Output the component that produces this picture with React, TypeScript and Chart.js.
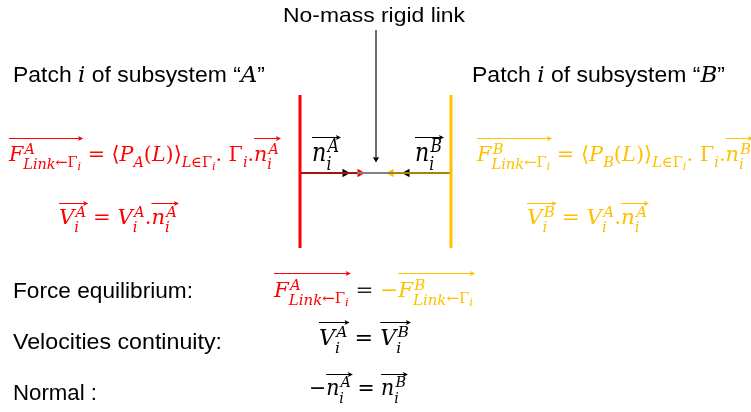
import React, { useEffect, useRef } from 'react';
import { Chart, registerables } from 'chart.js';
Chart.register(...registerables);

const W = 751;
const H = 412;
const RED = '#FF0000';
const GOLD = '#FFC000';
const INK = '#000000';

// ---- diagram geometry (data units = pixels) ----
const wallXs = [300, 451];
const wallColors = [RED, GOLD];
const wallSpan = [95, 248];
const linkY = 173;
const linkStops = [300, 357, 391, 451];
const linkColors = ['#A51212', '#808080', '#A88200'];
const headXs = [345, 360, 391, 407];
const headRotations = [90, 90, 270, 270];
const headColors = ['#000000', RED, GOLD, '#000000'];
const pointerX = 376;
const pointerSpan = [30, 158];

// ---- text runs: [text, code, colour?]  codes: m italic math, r roman math, u sup, d sub, D sub-sub, s stacked, v vector bracket
type Run = [string, string, string?];

const titleLink: Run[] = [['No-mass rigid link', '']];
const patchA: Run[] = [['Patch ', ''], ['i', 'm'], [' of subsystem \u201C', ''], ['A', 'm'], ['\u201D', '']];
const patchB: Run[] = [['Patch ', ''], ['i', 'm'], [' of subsystem \u201C', ''], ['B', 'm'], ['\u201D', '']];

const forceA: Run[] = [
  ['{', 'v'], ['F', 'm'], ['A', 'mu'], ['Link', 'mds'], ['\u2190', 'rd'], ['\u0393', 'rd'], ['i', 'mD'], ['}', 'v'],
  [' = ', 'r'], ['\u27E8', 'r'], ['P', 'm'], ['A', 'md'], ['(', 'r'], ['L', 'm'], [')', 'r'], ['\u27E9', 'r'],
  ['L', 'md'], ['\u2208', 'rd'], ['\u0393', 'rd'], ['i', 'mD'], ['. ', 'r'], ['\u0393', 'r'], ['i', 'md'], ['.', 'r'],
  ['{', 'v'], ['n', 'm'], ['A', 'mu'], ['i', 'mds'], ['}', 'v'],
];
const forceB: Run[] = [
  ['{', 'v'], ['F', 'm'], ['B', 'mu'], ['Link', 'mds'], ['\u2190', 'rd'], ['\u0393', 'rd'], ['i', 'mD'], ['}', 'v'],
  [' = ', 'r'], ['\u27E8', 'r'], ['P', 'm'], ['B', 'md'], ['(', 'r'], ['L', 'm'], [')', 'r'], ['\u27E9', 'r'],
  ['L', 'md'], ['\u2208', 'rd'], ['\u0393', 'rd'], ['i', 'mD'], ['. ', 'r'], ['\u0393', 'r'], ['i', 'md'], ['.', 'r'],
  ['{', 'v'], ['n', 'm'], ['B', 'mu'], ['i', 'mds'], ['}', 'v'],
];
const velA: Run[] = [
  ['{', 'v'], ['V', 'm'], ['A', 'mu'], ['i', 'mds'], ['}', 'v'], [' = ', 'r'],
  ['V', 'm'], ['A', 'mu'], ['i', 'mds'], ['.', 'r'], ['{', 'v'], ['n', 'm'], ['A', 'mu'], ['i', 'mds'], ['}', 'v'],
];
const velB: Run[] = [
  ['{', 'v'], ['V', 'm'], ['B', 'mu'], ['i', 'mds'], ['}', 'v'], [' = ', 'r'],
  ['V', 'm'], ['A', 'mu'], ['i', 'mds'], ['.', 'r'], ['{', 'v'], ['n', 'm'], ['A', 'mu'], ['i', 'mds'], ['}', 'v'],
];
const normalA: Run[] = [['{', 'v'], ['n', 'm'], ['A', 'mu'], ['i', 'mds'], ['}', 'v']];
const normalB: Run[] = [['{', 'v'], ['n', 'm'], ['B', 'mu'], ['i', 'mds'], ['}', 'v']];

const labelForce: Run[] = [['Force equilibrium:', '']];
const labelVel: Run[] = [['Velocities continuity:', '']];
const labelNormal: Run[] = [['Normal :', '']];

const eqForce: Run[] = [
  ['{', 'v', RED], ['F', 'm', RED], ['A', 'mu', RED], ['Link', 'mds', RED], ['\u2190', 'rd', RED], ['\u0393', 'rd', RED], ['i', 'mD', RED], ['}', 'v'],
  [' = ', 'r', '#222222'], ['\u2212', 'r', GOLD],
  ['{', 'v', GOLD], ['F', 'm', GOLD], ['B', 'mu', GOLD], ['Link', 'mds', GOLD], ['\u2190', 'rd', GOLD], ['\u0393', 'rd', GOLD], ['i', 'mD', GOLD], ['}', 'v'],
];
const eqVel: Run[] = [
  ['{', 'v'], ['V', 'm'], ['A', 'mu'], ['i', 'mds'], ['}', 'v'], [' = ', 'r'],
  ['{', 'v'], ['V', 'm'], ['B', 'mu'], ['i', 'mds'], ['}', 'v'],
];
const eqNormal: Run[] = [
  ['\u2212', 'r'], ['{', 'v'], ['n', 'm'], ['A', 'mu'], ['i', 'mds'], ['}', 'v'], [' = ', 'r'],
  ['{', 'v'], ['n', 'm'], ['B', 'mu'], ['i', 'mds'], ['}', 'v'],
];

type Item = { runs: Run[]; x: number; y: number; size: number; color: string; family: 'sans' | 'math'; w?: number; align?: 'left' | 'center'; ar?: number };

const items: Item[] = [
  { runs: titleLink, x: 374, y: 22, size: 21, color: INK, family: 'sans', w: 182, align: 'center' },
  { runs: patchA, x: 13, y: 82, size: 22, color: INK, family: 'sans', w: 252 },
  { runs: patchB, x: 472, y: 82, size: 22, color: INK, family: 'sans', w: 253 },
  { runs: forceA, x: 9, y: 161, size: 21, color: RED, family: 'math', w: 270, ar: 23 },
  { runs: velA, x: 59, y: 224, size: 21, color: RED, family: 'math', w: 118, ar: 21 },
  { runs: normalA, x: 312, y: 161, size: 26, color: INK, family: 'math', w: 27, ar: 24 },
  { runs: normalB, x: 415, y: 161, size: 26, color: INK, family: 'math', w: 27, ar: 24 },
  { runs: forceB, x: 477, y: 161, size: 21, color: GOLD, family: 'math', w: 274, ar: 23 },
  { runs: velB, x: 527, y: 224, size: 21, color: GOLD, family: 'math', w: 120, ar: 21 },
  { runs: labelForce, x: 13, y: 298, size: 22, color: INK, family: 'sans', w: 180 },
  { runs: labelVel, x: 13, y: 349, size: 22, color: INK, family: 'sans', w: 209 },
  { runs: labelNormal, x: 13, y: 400, size: 22, color: INK, family: 'sans', w: 84 },
  { runs: eqForce, x: 274, y: 297, size: 21, color: INK, family: 'math', w: 199, ar: 24 },
  { runs: eqVel, x: 319, y: 345, size: 22, color: INK, family: 'math', w: 90, ar: 23 },
  { runs: eqNormal, x: 309, y: 395, size: 22, color: INK, family: 'math', w: 97, ar: 21 },
];

function fontFor(code: string, sz: number, family: string) {
  if (code.includes('m')) return `italic ${sz}px "DejaVu Serif", serif`;
  if (code.includes('r') || family === 'math') return `${sz}px "DejaVu Serif", serif`;
  return `${sz}px "Liberation Sans", Arial, sans-serif`;
}

function layout(ctx: CanvasRenderingContext2D, item: Item) {
  const S = item.size;
  let x = 0;
  let anchor = 0;
  let prevEnd = 0;
  let lastBaseItalic = false;
  const placed: { t: string; font: string; x: number; dy: number; color: string }[] = [];
  const groups: { x0: number; x1: number; color: string }[] = [];
  let open: { x0: number; x1: number; color: string } | null = null;
  for (const [t, code, col] of item.runs) {
    if (code.includes('v')) {
      if (t === '{') open = { x0: x, x1: x, color: col || item.color };
      else if (open) { open.x1 = x; groups.push(open); open = null; }
      continue;
    }
    let sz = S;
    let dy = 0;
    if (code.includes('u')) { sz = S * 0.7; dy = -0.35 * S; }
    else if (code.includes('D')) { sz = S * 0.54; dy = 0.42 * S; }
    else if (code.includes('d')) { sz = S * 0.7; dy = code.includes('s') ? 0.36 * S : 0.28 * S; }
    const font = fontFor(code, sz, item.family);
    ctx.font = font;
    const w = ctx.measureText(t).width;
    let sx = x;
    if (code.includes('s')) sx = anchor;
    else if (code.includes('u')) { anchor = x; sx = x + (lastBaseItalic ? 0.06 * S : 0); }
    else anchor = x;
    placed.push({ t, font, x: sx, dy, color: col || item.color });
    const end = sx + w;
    x = code.includes('s') ? Math.max(prevEnd, end) : end;
    prevEnd = x;
    if (!code.includes('u') && !code.includes('d') && !code.includes('D') && !code.includes('s')) lastBaseItalic = code.includes('m');
  }
  return { placed, groups, width: x };
}

const textPlugin = {
  id: 'diagramText',
  afterDatasetsDraw(chart: any) {
    const ctx: CanvasRenderingContext2D = chart.ctx;
    const xs = chart.scales.x;
    const ys = chart.scales.y;
    ctx.save();
    ctx.textBaseline = 'alphabetic';
    ctx.textAlign = 'left';
    for (const item of items) {
      const lay = layout(ctx, item);
      const k = item.w ? item.w / lay.width : 1;
      let px = xs.getPixelForValue(item.x);
      const py = ys.getPixelForValue(item.y);
      if (item.align === 'center') px -= (lay.width * k) / 2;
      ctx.save();
      ctx.translate(px, py);
      ctx.scale(k, 1);
      for (const p of lay.placed) {
        ctx.font = p.font;
        ctx.fillStyle = p.color;
        ctx.fillText(p.t, p.x, p.dy);
      }
      ctx.restore();
      for (const g of lay.groups) {
        const x0 = px + g.x0 * k;
        const x1 = px + g.x1 * k + 2;
        const y = Math.round(py - (item.ar || 22)) + 0.5;
        ctx.strokeStyle = g.color;
        ctx.fillStyle = g.color;
        ctx.lineWidth = 1;
        ctx.beginPath();
        ctx.moveTo(x0, y);
        ctx.lineTo(x1 - 1, y);
        ctx.stroke();
        ctx.beginPath();
        ctx.moveTo(x1, y);
        ctx.lineTo(x1 - 5, y - 2.5);
        ctx.lineTo(x1 - 4, y);
        ctx.lineTo(x1 - 5, y + 2.5);
        ctx.closePath();
        ctx.fill();
      }
    }
    ctx.restore();
  },
};

export default function App() {
  const ref = useRef<HTMLCanvasElement | null>(null);
  useEffect(() => {
    if (!ref.current) return;
    const line = (pts: { x: number; y: number }[], color: string, width: number) => ({
      type: 'scatter' as const,
      data: pts,
      showLine: true,
      borderColor: color,
      borderWidth: width,
      pointRadius: 0,
      fill: false,
    });
    const datasets: any[] = [];
    wallXs.forEach((wx, i) => {
      datasets.push(line([{ x: wx, y: wallSpan[0] }, { x: wx, y: wallSpan[1] }], wallColors[i], 3));
    });
    linkColors.forEach((c, i) => {
      datasets.push(line([{ x: linkStops[i], y: linkY }, { x: linkStops[i + 1], y: linkY }], c, 2));
    });
    datasets.push(line([{ x: pointerX, y: pointerSpan[0] }, { x: pointerX, y: pointerSpan[1] }], '#595959', 1));
    datasets.push({
      type: 'scatter',
      data: [{ x: pointerX, y: pointerSpan[1] + 1 }],
      pointStyle: 'triangle',
      rotation: 180,
      pointRadius: 3.5,
      backgroundColor: '#000000',
      borderWidth: 0,
    });
    headXs.forEach((hx, i) => {
      datasets.push({
        type: 'scatter',
        data: [{ x: hx, y: linkY }],
        pointStyle: 'triangle',
        rotation: headRotations[i],
        pointRadius: 5,
        backgroundColor: headColors[i],
        borderColor: headColors[i],
        borderWidth: 0,
      });
    });
    const chart = new Chart(ref.current, {
      type: 'scatter',
      data: { datasets },
      options: {
        animation: false,
        responsive: false,
        maintainAspectRatio: false,
        layout: { padding: 0, autoPadding: false },
        events: [],
        plugins: { legend: { display: false }, tooltip: { enabled: false } },
        scales: {
          x: { type: 'linear', min: 0, max: W, display: false },
          y: { type: 'linear', min: 0, max: H, reverse: true, display: false },
        },
      },
      plugins: [textPlugin],
    });
    return () => chart.destroy();
  }, []);
  return (
    <div style={{ position: 'fixed', left: 0, top: 0, width: W, height: H, background: '#ffffff' }}>
      <canvas ref={ref} width={W} height={H} />
    </div>
  );
}
